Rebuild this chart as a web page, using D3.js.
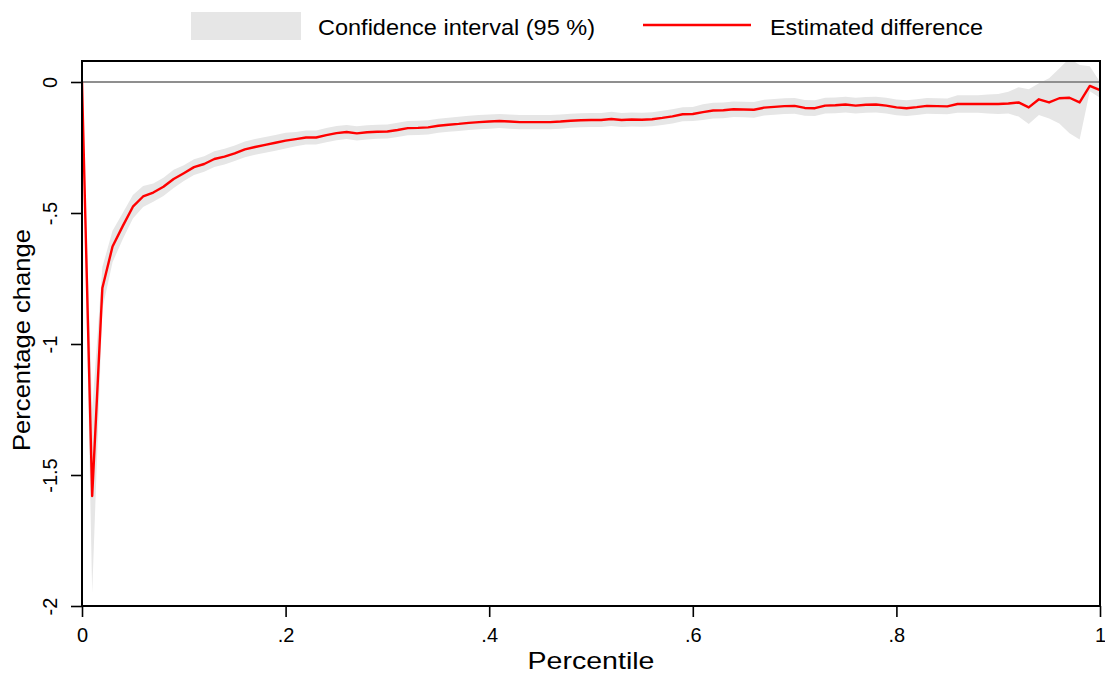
<!DOCTYPE html>
<html>
<head>
<meta charset="utf-8">
<script src="https://cdn.jsdelivr.net/npm/d3@7"></script>
<style>
  body { margin: 0; background: #fff; }
  text { font-family: "Liberation Sans", Arial, sans-serif; fill: #000; }
</style>
</head>
<body>
<svg id="main-svg" width="1105" height="673"></svg>
<script>
// percentiles 0, .01, ... 1
const percentiles = d3.range(0, 101).map(i => i / 100);

const estimate = [
  0, -1.58, -0.786, -0.628, -0.55, -0.476, -0.437, -0.422, -0.400, -0.370,
  -0.348, -0.325, -0.313, -0.294, -0.285, -0.272, -0.257, -0.248, -0.240, -0.232,
  -0.224, -0.218, -0.212, -0.212, -0.203, -0.195, -0.191, -0.196, -0.192, -0.190,
  -0.189, -0.183, -0.176, -0.175, -0.173, -0.167, -0.163, -0.160, -0.156, -0.153,
  -0.151, -0.149, -0.151, -0.153, -0.153, -0.153, -0.153, -0.151, -0.148, -0.146,
  -0.145, -0.145, -0.141, -0.145, -0.143, -0.144, -0.142, -0.137, -0.131, -0.123,
  -0.122, -0.115, -0.109, -0.108, -0.104, -0.105, -0.106, -0.098, -0.095, -0.092,
  -0.091, -0.099, -0.100, -0.090, -0.089, -0.086, -0.090, -0.087, -0.086, -0.090,
  -0.097, -0.100, -0.096, -0.091, -0.092, -0.093, -0.084, -0.084, -0.084, -0.084,
  -0.084, -0.082, -0.078, -0.097, -0.066, -0.078, -0.062, -0.060, -0.078, -0.015,
  -0.031
];

const ciUpper = [
  0, -1.25, -0.706, -0.568, -0.50, -0.431, -0.397, -0.387, -0.365, -0.335,
  -0.318, -0.295, -0.283, -0.264, -0.255, -0.242, -0.227, -0.218, -0.210, -0.202,
  -0.194, -0.191, -0.185, -0.185, -0.176, -0.168, -0.164, -0.169, -0.165, -0.163,
  -0.162, -0.156, -0.149, -0.148, -0.146, -0.140, -0.136, -0.133, -0.129, -0.126,
  -0.124, -0.122, -0.124, -0.126, -0.126, -0.126, -0.126, -0.124, -0.121, -0.119,
  -0.118, -0.118, -0.114, -0.118, -0.116, -0.117, -0.115, -0.110, -0.104, -0.096,
  -0.095, -0.085, -0.079, -0.078, -0.074, -0.075, -0.076, -0.068, -0.065, -0.062,
  -0.061, -0.069, -0.070, -0.060, -0.059, -0.056, -0.060, -0.057, -0.056, -0.060,
  -0.067, -0.070, -0.066, -0.061, -0.062, -0.063, -0.051, -0.051, -0.051, -0.048,
  -0.046, -0.037, -0.020, -0.028, -0.005, 0.014, 0.052, 0.090, 0.065, 0.060,
  0.000
];

const ciLower = [
  0, -1.95, -0.866, -0.688, -0.60, -0.521, -0.477, -0.457, -0.435, -0.405,
  -0.378, -0.355, -0.343, -0.324, -0.315, -0.302, -0.287, -0.278, -0.270, -0.262,
  -0.254, -0.245, -0.239, -0.239, -0.230, -0.222, -0.218, -0.223, -0.219, -0.217,
  -0.216, -0.210, -0.203, -0.202, -0.200, -0.194, -0.190, -0.187, -0.183, -0.180,
  -0.178, -0.176, -0.178, -0.180, -0.180, -0.180, -0.180, -0.178, -0.175, -0.173,
  -0.172, -0.172, -0.168, -0.172, -0.170, -0.171, -0.169, -0.164, -0.158, -0.150,
  -0.149, -0.145, -0.139, -0.138, -0.134, -0.135, -0.136, -0.128, -0.125, -0.122,
  -0.121, -0.129, -0.130, -0.120, -0.119, -0.116, -0.120, -0.117, -0.116, -0.120,
  -0.127, -0.130, -0.126, -0.121, -0.122, -0.123, -0.117, -0.117, -0.117, -0.120,
  -0.122, -0.120, -0.132, -0.160, -0.126, -0.139, -0.158, -0.196, -0.219, -0.035,
  -0.060
];

const xTicks = [0, 0.2, 0.4, 0.6, 0.8, 1];
const xTickLabels = ["0", ".2", ".4", ".6", ".8", "1"];
const yTicks = [0, -0.5, -1, -1.5, -2];
const yTickLabels = ["0", "-.5", "-1", "-1.5", "-2"];

const plot = { left: 82, right: 1100, top: 61, bottom: 606 };

const svg = d3.select("#main-svg");

const x = d3.scaleLinear().domain([0, 1]).range([plot.left, plot.right]);
const y = d3.scaleLinear().domain([-2, 0]).range([plot.bottom, 82]);

const rows = percentiles.map((p, i) => ({
  p: p, est: estimate[i], lo: ciLower[i], hi: ciUpper[i]
}));

svg.append("clipPath").attr("id", "plot-clip")
  .append("rect")
  .attr("x", plot.left).attr("y", plot.top)
  .attr("width", plot.right - plot.left).attr("height", plot.bottom - plot.top);

const g = svg.append("g").attr("clip-path", "url(#plot-clip)");

// confidence band
g.append("path")
  .datum(rows)
  .attr("fill", "#e6e6e6")
  .attr("d", d3.area().x(d => x(d.p)).y0(d => y(d.lo)).y1(d => y(d.hi)));

// zero line
g.append("line")
  .attr("x1", plot.left).attr("x2", plot.right)
  .attr("y1", y(0)).attr("y2", y(0))
  .attr("stroke", "#8f8f8f").attr("stroke-width", 2.2);

// estimate
g.append("path")
  .datum(rows)
  .attr("fill", "none")
  .attr("stroke", "#ff0000")
  .attr("stroke-width", 2.4)
  .attr("stroke-linejoin", "round")
  .attr("d", d3.line().x(d => x(d.p)).y(d => y(d.est)));

// frame
svg.append("rect")
  .attr("x", plot.left).attr("y", plot.top)
  .attr("width", plot.right - plot.left).attr("height", plot.bottom - plot.top)
  .attr("fill", "none").attr("stroke", "#000").attr("stroke-width", 2);

// x axis
const xAxis = d3.axisBottom(x)
  .tickValues(xTicks)
  .tickSize(11)
  .tickSizeOuter(0)
  .tickPadding(8)
  .tickFormat((d, i) => xTickLabels[i]);

const xg = svg.append("g")
  .attr("transform", `translate(0,${plot.bottom})`)
  .call(xAxis);
xg.select(".domain").remove();
xg.selectAll(".tick line").attr("stroke", "#000").attr("stroke-width", 1.6);
xg.selectAll(".tick text")
  .attr("dy", null).attr("y", 36)
  .style("font-family", "'Liberation Sans', Arial, sans-serif")
  .style("font-size", "20px")
  .attr("fill", "#000");

// y axis, labels rotated
const yAxis = d3.axisLeft(y)
  .tickValues(yTicks)
  .tickSize(11)
  .tickSizeOuter(0)
  .tickFormat((d, i) => yTickLabels[i]);

const yg = svg.append("g")
  .attr("transform", `translate(${plot.left},0)`)
  .call(yAxis);
yg.select(".domain").remove();
yg.selectAll(".tick line").attr("stroke", "#000").attr("stroke-width", 1.6);
yg.selectAll(".tick text")
  .attr("x", null).attr("dy", null)
  .attr("transform", "translate(-25,0) rotate(-90)")
  .attr("text-anchor", "middle")
  .style("font-family", "'Liberation Sans', Arial, sans-serif")
  .style("font-size", "20px")
  .attr("fill", "#000");

// axis titles
svg.append("text")
  .attr("x", (plot.left + plot.right) / 2).attr("y", 669)
  .attr("text-anchor", "middle")
  .attr("textLength", 127).attr("lengthAdjust", "spacingAndGlyphs")
  .style("font-size", "24px")
  .text("Percentile");

svg.append("text")
  .attr("transform", "translate(30,340) rotate(-90)")
  .attr("text-anchor", "middle")
  .attr("textLength", 222).attr("lengthAdjust", "spacingAndGlyphs")
  .style("font-size", "24px")
  .text("Percentage change");

// legend
const legend = svg.append("g");
legend.append("rect")
  .attr("x", 191).attr("y", 12).attr("width", 110).attr("height", 28)
  .attr("fill", "#e6e6e6");
legend.append("text")
  .attr("x", 318).attr("y", 35)
  .attr("textLength", 277).attr("lengthAdjust", "spacingAndGlyphs")
  .style("font-size", "22px")
  .text("Confidence interval (95 %)");
legend.append("line")
  .attr("x1", 643).attr("x2", 751).attr("y1", 25).attr("y2", 25)
  .attr("stroke", "#ff0000").attr("stroke-width", 2.4);
legend.append("text")
  .attr("x", 770).attr("y", 35)
  .attr("textLength", 213).attr("lengthAdjust", "spacingAndGlyphs")
  .style("font-size", "22px")
  .text("Estimated difference");
</script>
</body>
</html>
